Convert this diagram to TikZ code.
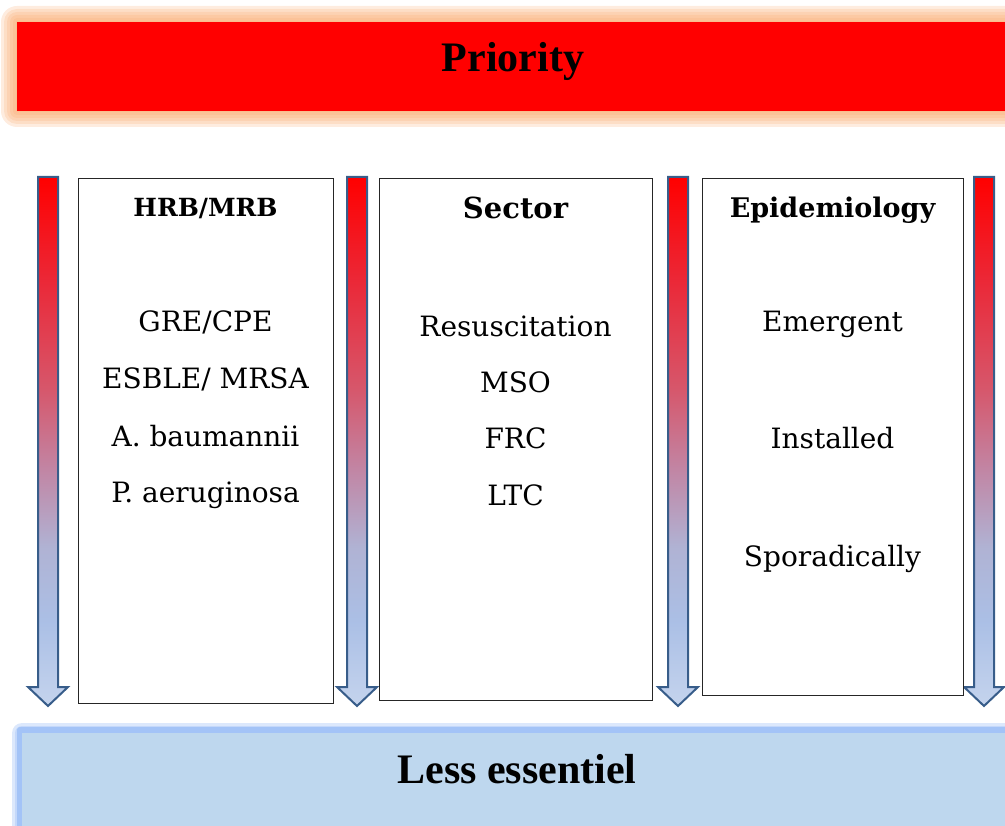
\documentclass[tikz,border=0pt]{standalone}
\usepackage{fontspec}
\setmainfont{DejaVu Serif}
\newfontfamily\timesfont{Liberation Serif}

\definecolor{arrowedge}{RGB}{56,93,138}
\definecolor{barblue}{RGB}{190,215,238}
\definecolor{glowblue}{RGB}{140,180,245}
\definecolor{gloworange}{RGB}{250,170,110}
\pgfdeclareverticalshading{redtoblue}{100bp}{%
  rgb(0bp)=(.77,.83,.93); rgb(25bp)=(.77,.83,.93); rgb(33bp)=(.67,.75,.90);
  rgb(40bp)=(.69,.70,.83); rgb(47.5bp)=(.76,.52,.64); rgb(55bp)=(.84,.34,.42);
  rgb(65bp)=(.92,.16,.22); rgb(75bp)=(1,0,0); rgb(100bp)=(1,0,0)}

\tikzset{
  colbox/.style={draw=black!85, line width=0.9pt, fill=white},
  headtext/.style={font=\bfseries\fontsize{#1}{32}\selectfont, anchor=base},
  headtext/.default=27,
  itemtext/.style={font=\fontsize{28}{32}\selectfont, anchor=base},
  bartext/.style={font=\timesfont\bfseries\fontsize{42}{48}\selectfont, anchor=base}
}

\begin{document}
\begin{tikzpicture}[x=1pt, y=-1pt]
        \useasboundingbox (0,0) rectangle (1005,826);

        %上の帯（ぼかし付き）
        \foreach \g in {16,13,10,7,4,1}
          \fill[gloworange, opacity=0.22, rounded corners=\g pt] ({17-\g},{22-\g}) rectangle ({1015+\g},{111+\g});
        \fill[red](17,22) rectangle (1015,111);
        \node[bartext] (priority) at (513,72) {Priority};

        %下の帯
        \foreach \g in {10,7}
          \fill[glowblue, opacity=0.3, rounded corners=\g pt] ({22-\g},{733-\g}) rectangle ({1015+\g},{840});
        \fill[glowblue!80, rounded corners=3pt](17,727) rectangle (1015,840);
        \fill[barblue](22,733) rectangle (1015,840);
        \node[bartext] (lessessential) at (517,783) {Less essentiel};

        %グラデーションの矢印
        \foreach \cx in {48,357,678,984}
          \shadedraw[shading=redtoblue, draw=arrowedge, line width=2pt]
            ({\cx-10},177) -- ({\cx+10},177) -- ({\cx+10},687) -- ({\cx+20},687)
            -- (\cx,706) -- ({\cx-20},687) -- ({\cx-10},687) -- cycle;

        %三つの枠
        \node[colbox, minimum width=255pt, minimum height=525pt] (hrbbox) at (205.5,440.5) {};
        \node[colbox, minimum width=273pt, minimum height=522pt] (sectorbox) at (515.5,439) {};
        \node[colbox, minimum width=261pt, minimum height=517pt] (epibox) at (832.5,436.5) {};

        %見出し
        \node[headtext=25] (hrb) at (205.5,217) {HRB/MRB};
        \node[headtext=29] (sector) at (515.5,219) {Sector};
        \node[headtext=27] (epi) at (832.5,218) {Epidemiology};

        %左の枠の文字
        \node[itemtext] (gre) at (205.5,332) {GRE/CPE};
        \node[itemtext] (esble) at (205.5,389) {ESBLE/ MRSA};
        \node[itemtext] (abau) at (205.5,447) {A. baumannii};
        \node[itemtext] (paer) at (205.5,503) {P. aeruginosa};

        %真ん中の枠の文字
        \node[itemtext] (resus) at (515.5,337) {Resuscitation};
        \node[itemtext] (mso) at (515.5,393) {MSO};
        \node[itemtext] (frc) at (515.5,449) {FRC};
        \node[itemtext] (ltc) at (515.5,505) {LTC};

        %右の枠の文字
        \node[itemtext] (emergent) at (832.5,332) {Emergent};
        \node[itemtext] (installed) at (832.5,449) {Installed};
        \node[itemtext] (sporadic) at (832.5,566) {Sporadically};
    \end{tikzpicture}
\end{document}
